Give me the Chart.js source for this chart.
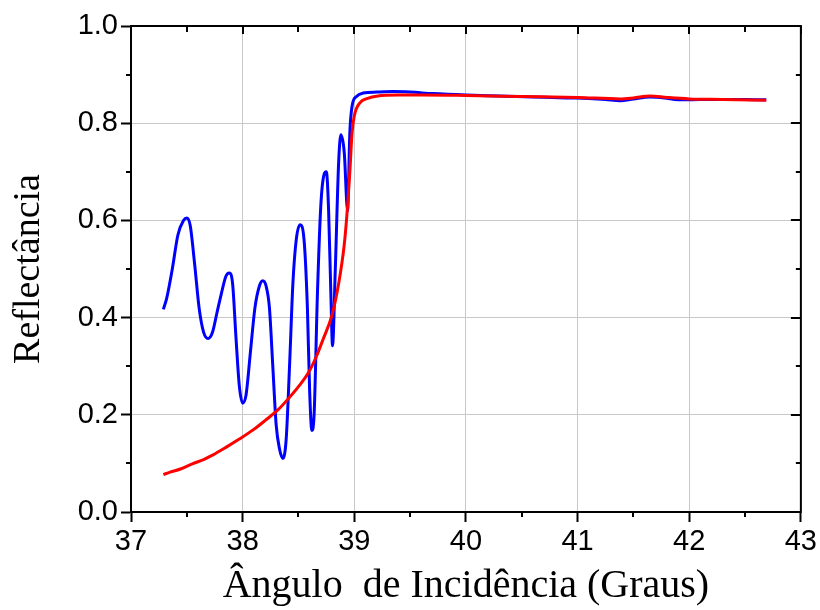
<!DOCTYPE html>
<html>
<head>
<meta charset="utf-8">
<script src="https://cdn.jsdelivr.net/npm/chart.js@4.4.1/dist/chart.umd.min.js"></script>
<style>
html,body{margin:0;padding:0;background:#fff;}
#wrap{width:820px;height:610px;}
</style>
</head>
<body>
<div id="wrap"><canvas id="c" width="820" height="610"></canvas></div>
<script>
// Measured curve (blue)
const blueX = [37.29,37.32,37.37,37.42,37.47,37.50,37.53,37.57,37.61,37.65,37.69,37.73,37.77,37.81,37.85,37.88,37.91,37.94,37.97,38.00,38.03,38.07,38.11,38.15,38.18,38.21,38.24,38.27,38.30,38.33,38.36,38.39,38.42,38.45,38.48,38.515,38.55,38.58,38.60,38.62,38.64,38.67,38.70,38.73,38.75,38.77,38.79,38.805,38.83,38.86,38.88,38.91,38.94,38.96,38.98,39.02,39.08,39.2,39.35,39.5,39.7,40.0,40.3,40.6,40.9,41.1,41.25,41.38,41.5,41.65,41.78,41.9,42.1,42.3,42.5,42.69];
const blueY = [0.417,0.44,0.50,0.57,0.600,0.605,0.590,0.51,0.42,0.37,0.357,0.37,0.41,0.45,0.485,0.492,0.47,0.36,0.26,0.224,0.24,0.33,0.42,0.465,0.476,0.465,0.42,0.30,0.18,0.13,0.110,0.15,0.30,0.47,0.56,0.591,0.56,0.42,0.25,0.168,0.20,0.45,0.63,0.695,0.70,0.62,0.45,0.342,0.50,0.72,0.776,0.74,0.62,0.78,0.835,0.855,0.862,0.864,0.865,0.864,0.861,0.858,0.856,0.854,0.852,0.851,0.849,0.846,0.850,0.854,0.852,0.848,0.849,0.849,0.849,0.848];
// Theoretical curve (red)
const redX = [37.29,37.35,37.45,37.55,37.65,37.73,37.85,37.97,38.1,38.2,38.32,38.42,38.5,38.59,38.66,38.72,38.8,38.86,38.91,38.94,38.96,38.98,39.0,39.05,39.12,39.21,39.39,39.6,40.0,40.5,41.0,41.38,41.5,41.65,41.8,42.0,42.3,42.69];
const redY = [0.077,0.082,0.089,0.099,0.108,0.117,0.133,0.150,0.170,0.188,0.211,0.236,0.258,0.287,0.320,0.355,0.405,0.47,0.55,0.63,0.70,0.78,0.815,0.842,0.851,0.856,0.858,0.858,0.857,0.855,0.853,0.850,0.852,0.856,0.853,0.850,0.849,0.847];
const xTickValues = [37,38,39,40,41,42,43];
const yTickValues = [0.0,0.2,0.4,0.6,0.8,1.0];
const xTitle = 'Ângulo  de Incidência (Graus)';
const yTitle = 'Reflectância';

const toPts = (xs, ys) => xs.map((x, i) => ({x: x, y: ys[i]}));

const framePlugin = {
  id: 'frame',
  afterDraw(chart) {
    const {ctx, chartArea: a, scales: {x, y}} = chart;
    ctx.save();
    ctx.strokeStyle = '#000';
    ctx.lineWidth = 2;
    ctx.beginPath();
    ctx.rect(a.left, a.top, a.right - a.left, a.bottom - a.top);
    ctx.stroke();
    ctx.beginPath();
    for (let v = 37; v <= 43.001; v += 0.5) {
      const px = Math.round(x.getPixelForValue(v));
      const major = Math.abs(v - Math.round(v)) < 1e-6;
      if (!major) { ctx.moveTo(px, a.bottom); ctx.lineTo(px, a.bottom + 5); }
      ctx.moveTo(px, a.top); ctx.lineTo(px, a.top + (major ? 8 : 6));
    }
    for (let v = 0; v <= 1.0001; v += 0.1) {
      const py = Math.round(y.getPixelForValue(v));
      const major = Math.round(v * 10) % 2 === 0;
      if (!major) { ctx.moveTo(a.left, py); ctx.lineTo(a.left - 5, py); }
      ctx.moveTo(a.right, py); ctx.lineTo(a.right - (major ? 10 : 5), py);
    }
    ctx.stroke();
    ctx.restore();
  }
};

new Chart(document.getElementById('c'), {
  type: 'line',
  data: {
    datasets: [
      {label: 'teórica', data: toPts(redX, redY), borderColor: '#ff0000', borderWidth: 3, pointRadius: 0, cubicInterpolationMode: 'monotone', fill: false, order: 0},
      {label: 'experimental', data: toPts(blueX, blueY), borderColor: '#0000ff', borderWidth: 3, pointRadius: 0, cubicInterpolationMode: 'monotone', fill: false, order: 1}
    ]
  },
  options: {
    responsive: false,
    animation: false,
    devicePixelRatio: 1,
    layout: {padding: {top: 26, right: 16, left: 0, bottom: 0}},
    plugins: {legend: {display: false}, tooltip: {enabled: false}},
    scales: {
      x: {
        type: 'linear', min: 37, max: 43,
        afterBuildTicks: s => { s.ticks = xTickValues.map(v => ({value: v})); },
        afterFit: s => { s.height = 98; },
        ticks: {color: '#000', font: {family: 'Liberation Sans', size: 29}, padding: 3, maxRotation: 0, callback: v => String(v)},
        grid: {color: '#c8c8c8', lineWidth: 1, drawTicks: true, tickLength: 10, tickColor: '#000', tickWidth: 2},
        border: {color: '#000', width: 2},
        title: {display: true, text: xTitle, color: '#000', font: {family: 'Liberation Serif', size: 40}, padding: {top: 0, bottom: 0}}
      },
      y: {
        type: 'linear', min: 0, max: 1,
        afterBuildTicks: s => { s.ticks = yTickValues.map(v => ({value: v})); },
        afterFit: s => { s.width = 131; },
        ticks: {color: '#000', font: {family: 'Liberation Sans', size: 29}, padding: 3, callback: v => Number(v).toFixed(1)},
        grid: {color: '#c8c8c8', lineWidth: 1, drawTicks: true, tickLength: 10, tickColor: '#000', tickWidth: 2},
        border: {color: '#000', width: 2},
        title: {display: true, text: yTitle, color: '#000', font: {family: 'Liberation Serif', size: 38}, padding: {top: 6, bottom: 0}}
      }
    }
  },
  plugins: [framePlugin]
});
</script>
</body>
</html>
